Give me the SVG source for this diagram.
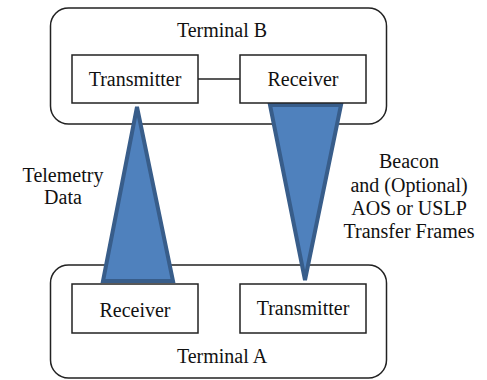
<svg xmlns="http://www.w3.org/2000/svg" width="487" height="380" viewBox="0 0 487 380">
<defs>
<style>
.term{fill:#fff;stroke:#222;stroke-width:1.5}
.box{fill:#fff;stroke:#222;stroke-width:1.5}
.beam{fill:#4F81BD;stroke:#385D8A;stroke-width:4;stroke-linejoin:miter}
text{font-family:"Liberation Serif","Times New Roman",serif;font-size:20px;fill:#111;text-anchor:middle}
</style>
</defs>
<rect width="487" height="380" fill="#fff"/>
<g id="terminal-b">
<rect class="term" x="50.5" y="8" width="336" height="116" rx="18"/>
<text x="222" y="37">Terminal B</text>
</g>
<g id="terminal-a">
<rect class="term" x="50.5" y="265" width="336" height="113" rx="18"/>
<text x="222" y="363">Terminal A</text>
</g>
<g id="connectors">
<line x1="198" y1="79" x2="240" y2="79" stroke="#222" stroke-width="1.5"/>
<polygon class="beam" points="137,107 103,281 173,281"/>
<polygon class="beam" points="270,105 341,105 305,280"/>
</g>
<g id="transmitter-b">
<rect class="box" x="72" y="55" width="126" height="48"/>
<text x="135" y="86">Transmitter</text>
</g>
<g id="receiver-b">
<rect class="box" x="240" y="55" width="126" height="48"/>
<text x="303" y="86">Receiver</text>
</g>
<g id="receiver-a">
<rect class="box" x="72" y="284" width="126" height="49"/>
<text x="135" y="317">Receiver</text>
</g>
<g id="transmitter-a">
<rect class="box" x="240" y="284" width="126" height="49"/>
<text x="303" y="315">Transmitter</text>
</g>
<g id="labels">
<text x="63" y="182">Telemetry</text>
<text x="63" y="204">Data</text>
<text x="409" y="168">Beacon</text>
<text x="409" y="192">and (Optional)</text>
<text x="409" y="215">AOS or USLP</text>
<text x="409" y="238">Transfer Frames</text>
</g>
</svg>
